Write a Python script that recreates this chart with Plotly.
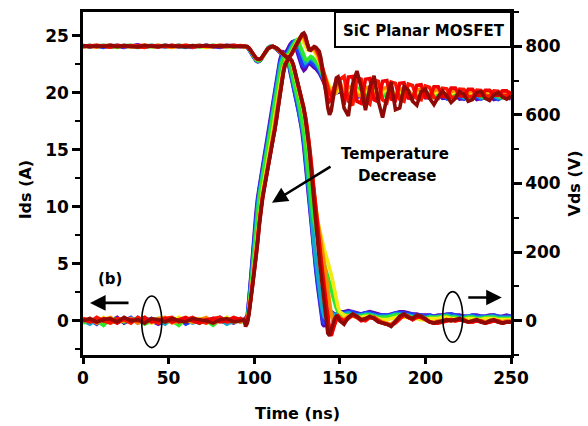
import plotly.graph_objects as go

# Sample times (ns): coarse before switching, 1 ns through the pulse, 2.5 ns in the tail
t_ns = list(range(0, 93, 4)) + list(range(94, 151)) + [152.5 + 2.5 * i for i in range(40)]

# Drain current Ids (A), one waveform per case temperature (coldest -> hottest)
ids_purple = [
    0.1, -0.2, 0.2, -0.1, 0.0, 0.3, -0.2, 0.1, -0.1, 0.2, 0.0, -0.3, 0.1, 0.2, -0.1, 0.0, 0.2, -0.2, 0.1, -0.1, 0.3, 0.0, -0.2, 0.1,
    0.0, 0.2, 0.5, 2.0, 4.0, 5.8, 7.6, 9.4, 10.8, 11.9,
    12.9, 13.8, 14.6, 15.5, 16.4, 17.3, 18.3, 19.3, 20.3, 21.3,
    22.2, 22.9, 23.4, 23.6, 23.5, 23.1, 22.6, 21.8, 21.0, 20.3,
    19.6, 19.0, 18.3, 17.5, 16.5, 15.2, 13.6, 11.8, 10.0, 8.4,
    7.0, 5.7, 4.4, 3.1, 1.8, 0.6, -0.3, -0.5, -0.1, 0.4,
    0.7, 0.8, 0.6, 0.5, 0.5, 0.7, 0.8,
    0.8, 0.9, 0.8, 0.7, 0.6, 0.7, 0.8, 0.7, 0.6, 0.5, 0.5, 0.6, 0.7, 0.8, 0.8, 0.7, 0.6, 0.6, 0.5, 0.5,
    0.5, 0.4, 0.5, 0.5, 0.6, 0.6, 0.5, 0.5, 0.4, 0.4, 0.5, 0.5, 0.4, 0.4, 0.5, 0.5, 0.4, 0.4, 0.5, 0.4,
]
ids_blue = [
    -0.1, 0.1, -0.3, 0.2, 0.1, -0.1, 0.0, 0.3, -0.2, 0.0, 0.2, -0.1, -0.2, 0.1, 0.2, -0.3, 0.0, 0.1, -0.1, 0.2, 0.0, -0.2, 0.1, -0.1,
    0.1, 0.0, 0.4, 1.7, 3.6, 5.4, 7.2, 9.0, 10.5, 11.6,
    12.6, 13.5, 14.3, 15.2, 16.1, 17.0, 18.0, 19.0, 20.0, 21.0,
    21.9, 22.7, 23.2, 23.5, 23.5, 23.2, 22.7, 22.0, 21.2, 20.5,
    19.8, 19.2, 18.5, 17.7, 16.8, 15.6, 14.0, 12.2, 10.4, 8.8,
    7.3, 6.0, 4.7, 3.4, 2.1, 0.9, 0.0, -0.3, 0.0, 0.4,
    0.7, 0.8, 0.7, 0.6, 0.6, 0.7, 0.8,
    0.7, 0.8, 0.8, 0.6, 0.6, 0.7, 0.7, 0.6, 0.5, 0.5, 0.5, 0.5, 0.7, 0.7, 0.7, 0.6, 0.6, 0.5, 0.5, 0.4,
    0.5, 0.4, 0.4, 0.5, 0.5, 0.6, 0.5, 0.4, 0.4, 0.4, 0.5, 0.4, 0.4, 0.4, 0.4, 0.5, 0.4, 0.3, 0.4, 0.4,
]
ids_cyan = [
    0.0, -0.3, 0.1, 0.2, -0.2, 0.0, 0.1, -0.1, 0.3, -0.2, 0.1, 0.0, -0.3, 0.2, 0.0, 0.1, -0.2, 0.0, 0.2, -0.1, 0.1, -0.3, 0.0, 0.2,
    0.0, 0.1, 0.3, 1.4, 3.2, 4.9, 6.6, 8.4, 10.0, 11.2,
    12.2, 13.1, 13.9, 14.8, 15.7, 16.6, 17.6, 18.6, 19.6, 20.6,
    21.5, 22.3, 22.9, 23.3, 23.4, 23.2, 22.8, 22.2, 21.5, 20.8,
    20.1, 19.5, 18.8, 18.0, 17.2, 16.1, 14.6, 12.9, 11.1, 9.5,
    8.0, 6.6, 5.3, 4.0, 2.8, 1.7, 0.8, 0.3, 0.2, 0.4,
    0.6, 0.7, 0.6, 0.5, 0.5, 0.6, 0.6,
    0.6, 0.7, 0.6, 0.5, 0.5, 0.6, 0.6, 0.5, 0.4, 0.4, 0.4, 0.5, 0.6, 0.6, 0.5, 0.5, 0.4, 0.4, 0.4, 0.3,
    0.4, 0.3, 0.4, 0.4, 0.5, 0.4, 0.4, 0.3, 0.3, 0.4, 0.4, 0.3, 0.3, 0.3, 0.4, 0.4, 0.3, 0.3, 0.3, 0.3,
]
ids_green = [
    -0.2, 0.1, 0.0, -0.4, 0.2, 0.1, -0.1, 0.0, 0.2, -0.3, 0.0, 0.2, -0.1, 0.0, -0.4, 0.2, 0.1, -0.2, 0.0, -0.4, 0.1, 0.2, -0.1, 0.0,
    -0.1, 0.0, 0.2, 1.2, 2.8, 4.4, 6.1, 7.9, 9.5, 10.8,
    11.8, 12.7, 13.5, 14.4, 15.3, 16.2, 17.2, 18.2, 19.2, 20.2,
    21.1, 21.9, 22.6, 23.0, 23.3, 23.2, 22.9, 22.4, 21.8, 21.1,
    20.4, 19.8, 19.1, 18.4, 17.6, 16.6, 15.3, 13.8, 12.3, 10.9,
    9.7, 8.7, 7.9, 7.2, 6.6, 6.0, 5.5, 5.0, 4.5, 4.0,
    3.4, 2.8, 2.1, 1.5, 1.1, 0.8, 0.6,
    0.5, 0.5, 0.5, 0.4, 0.4, 0.5, 0.5, 0.4, 0.3, 0.3, 0.3, 0.4, 0.5, 0.5, 0.4, 0.4, 0.3, 0.3, 0.3, 0.2,
    0.3, 0.3, 0.3, 0.4, 0.4, 0.3, 0.3, 0.2, 0.2, 0.3, 0.3, 0.2, 0.2, 0.3, 0.3, 0.3, 0.2, 0.2, 0.2, 0.2,
]
ids_yellow = [
    0.2, 0.0, -0.1, 0.3, -0.2, 0.1, 0.2, -0.1, 0.0, 0.3, -0.2, 0.1, 0.0, -0.1, 0.3, 0.0, -0.1, 0.2, -0.2, 0.1, 0.0, 0.3, -0.1, 0.0,
    0.0, -0.1, 0.1, 0.9, 2.3, 3.6, 5.0, 6.6, 8.1, 9.5,
    10.7, 11.6, 12.4, 13.2, 14.1, 15.0, 15.9, 16.8, 17.8, 18.8,
    19.8, 20.7, 21.5, 22.2, 22.7, 23.0, 23.1, 22.9, 22.6, 22.1,
    21.5, 20.8, 20.2, 19.6, 19.0, 18.3, 17.4, 16.3, 15.0, 13.6,
    12.2, 10.9, 9.8, 8.9, 8.1, 7.4, 6.8, 6.2, 5.7, 5.2,
    4.7, 4.1, 3.4, 2.6, 1.8, 1.2, 0.8,
    0.5, 0.4, 0.4, 0.3, 0.3, 0.4, 0.4, 0.3, 0.2, 0.1, 0.1, 0.2, 0.3, 0.4, 0.3, 0.3, 0.2, 0.2, 0.1, 0.1,
    0.2, 0.2, 0.2, 0.3, 0.3, 0.2, 0.2, 0.1, 0.1, 0.2, 0.2, 0.1, 0.1, 0.2, 0.2, 0.2, 0.1, 0.1, 0.1, 0.1,
]
ids_orange = [
    0.0, 0.2, -0.2, 0.1, 0.3, -0.1, 0.0, 0.2, -0.2, 0.1, -0.1, 0.2, 0.3, -0.2, 0.0, 0.2, -0.1, 0.1, 0.3, -0.2, 0.0, 0.1, 0.2, -0.1,
    0.1, -0.1, 0.0, 0.8, 2.1, 3.3, 4.5, 6.0, 7.5, 9.0,
    10.3, 11.2, 12.0, 12.8, 13.7, 14.6, 15.5, 16.3, 17.2, 18.3,
    19.3, 20.3, 21.2, 22.0, 22.6, 22.9, 23.0, 22.9, 22.7, 22.3,
    21.7, 21.0, 20.4, 19.8, 19.2, 18.5, 17.6, 16.5, 15.3, 13.9,
    12.4, 11.0, 9.8, 8.8, 7.9, 7.0, 6.1, 5.1, 4.0, 2.8,
    1.6, 0.6, -0.1, -0.3, 0.0, 0.3, 0.3,
    0.1, 0.4, 0.5, 0.3, 0.1, 0.2, 0.3, 0.2, 0.0, -0.1, -0.2, -0.3, 0.0, 0.3, 0.5, 0.3, 0.2, 0.4, 0.3, 0.1,
    -0.1, -0.1, 0.0, 0.0, 0.1, 0.0, 0.1, 0.1, 0.0, -0.1, 0.0, 0.1, 0.0, -0.1, 0.0, 0.1, 0.0, -0.1, 0.0, 0.0,
]
ids_red = [
    0.1, -0.1, 0.3, 0.0, -0.2, 0.2, 0.1, -0.2, 0.3, 0.0, 0.1, -0.2, 0.2, 0.3, -0.1, 0.1, 0.3, 0.0, -0.2, 0.2, 0.3, -0.1, 0.0, 0.2,
    0.0, -0.2, 0.0, 0.7, 1.9, 3.1, 4.2, 5.6, 7.1, 8.7,
    10.0, 11.0, 11.8, 12.6, 13.5, 14.4, 15.2, 16.0, 16.8, 17.9,
    19.0, 20.0, 21.0, 21.8, 22.5, 22.8, 23.0, 23.0, 22.8, 22.3,
    21.7, 21.0, 20.4, 19.9, 19.4, 18.7, 17.9, 16.9, 15.8, 14.4,
    12.9, 11.3, 9.7, 8.2, 6.8, 5.5, 4.2, 2.9, 1.5, 0.2,
    -0.8, -1.2, -0.8, -0.2, 0.3, 0.4, 0.2,
    -0.1, 0.2, 0.5, 0.4, 0.1, 0.0, 0.3, 0.3, 0.0, -0.2, -0.3, -0.4, -0.2, 0.2, 0.5, 0.4, 0.1, 0.3, 0.4, 0.2,
    -0.1, -0.2, -0.2, -0.1, 0.0, 0.1, 0.0, 0.1, 0.1, -0.1, -0.1, 0.0, 0.0, -0.2, -0.1, 0.0, 0.0, -0.2, -0.1, -0.1,
]
ids_crimson = [
    0.2, 0.0, -0.1, 0.2, 0.1, -0.2, 0.2, 0.1, 0.0, 0.3, -0.1, 0.0, 0.2, -0.1, 0.1, 0.3, 0.0, -0.2, 0.1, 0.2, -0.1, 0.0, 0.3, 0.1,
    0.1, -0.3, -0.1, 0.7, 1.9, 3.0, 4.1, 5.5, 7.0, 8.6,
    9.9, 10.9, 11.8, 12.6, 13.5, 14.4, 15.2, 16.0, 16.7, 17.8,
    18.9, 19.9, 20.9, 21.8, 22.5, 22.8, 23.0, 23.0, 22.8, 22.4,
    21.8, 21.1, 20.4, 19.9, 19.4, 18.7, 17.8, 16.8, 15.6, 14.1,
    12.5, 10.8, 9.2, 7.8, 6.5, 5.2, 3.9, 2.6, 1.2, -0.1,
    -1.0, -1.3, -0.9, -0.3, 0.2, 0.4, 0.2,
    0.0, 0.3, 0.5, 0.3, 0.0, 0.1, 0.3, 0.2, -0.1, -0.2, -0.3, -0.4, -0.1, 0.3, 0.5, 0.3, 0.1, 0.4, 0.3, 0.1,
    -0.1, -0.2, -0.1, -0.1, 0.0, 0.1, 0.0, 0.1, 0.0, -0.1, -0.1, 0.0, -0.1, -0.2, -0.1, 0.0, -0.1, -0.2, -0.1, -0.1,
]
ids_darkred = [
    0.0, 0.2, -0.1, 0.1, 0.2, -0.1, 0.3, 0.0, 0.1, -0.2, 0.2, 0.1, -0.1, 0.2, 0.0, -0.1, 0.2, 0.1, 0.0, -0.2, 0.1, 0.2, -0.1, 0.0,
    0.1, -0.5, -0.2, 0.6, 1.8, 2.9, 3.9, 5.3, 6.8, 8.4,
    9.8, 10.8, 11.7, 12.5, 13.4, 14.3, 15.1, 15.9, 16.5, 17.6,
    18.7, 19.8, 20.8, 21.7, 22.4, 22.8, 23.0, 23.0, 22.8, 22.4,
    21.8, 21.0, 20.3, 19.8, 19.3, 18.6, 17.6, 16.6, 15.3, 13.6,
    11.9, 9.8, 8.1, 6.6, 5.4, 4.1, 2.8, 1.5, 0.2, -1.1,
    -1.3, -0.9, -0.3, 0.2, 0.4, 0.3, 0.0,
    -0.3, 0.3, 0.6, 0.4, 0.1, 0.2, 0.4, 0.2, -0.1, -0.2, -0.3, -0.5, -0.1, 0.4, 0.6, 0.3, 0.2, 0.5, 0.4, 0.1,
    -0.1, -0.2, -0.1, 0.0, 0.1, 0.0, 0.1, 0.2, 0.0, -0.1, 0.0, 0.1, -0.1, -0.2, 0.0, 0.1, -0.1, -0.2, -0.1, -0.1,
]

# Drain-source voltage Vds (V), same temperatures
vds_purple = [
    801, 798, 802, 799, 803, 800, 797, 801, 804, 799, 800, 802, 798, 801, 803, 799, 797, 801, 802, 800, 798, 803, 800, 799,
    800, 799, 796, 790, 781, 772, 764, 758, 755, 756,
    761, 769, 778, 787, 794, 798, 800, 799, 796, 792,
    787, 782, 778, 776, 778, 785, 796, 806, 812, 810,
    800, 786, 770, 752, 738, 730, 735, 745, 750, 748,
    742, 738, 735, 730, 722, 712, 700, 690, 680, 672,
    668, 665, 663, 662, 664, 666, 668,
    662, 676, 664, 650, 662, 676, 664, 648, 658, 672, 664, 650, 656, 670, 664, 650, 654, 666, 662, 650,
    652, 664, 660, 648, 650, 662, 658, 646, 648, 660, 656, 645, 648, 658, 655, 645, 648, 657, 654, 646,
]
vds_blue = [
    799, 802, 800, 797, 801, 803, 799, 800, 802, 798, 801, 799, 803, 800, 798, 802, 800, 799, 803, 801, 797, 800, 802, 800,
    800, 799, 797, 791, 782, 773, 765, 759, 756, 757,
    762, 770, 779, 788, 795, 799, 800, 799, 796, 792,
    787, 782, 778, 775, 775, 779, 788, 799, 808, 814,
    810, 798, 782, 765, 750, 742, 744, 752, 757, 755,
    750, 746, 742, 736, 727, 716, 704, 693, 683, 675,
    670, 668, 668, 670, 672, 671, 668,
    660, 672, 670, 655, 652, 668, 672, 656, 650, 665, 670, 656, 650, 662, 668, 656, 650, 660, 665, 655,
    648, 658, 663, 654, 647, 656, 661, 652, 646, 654, 660, 652, 646, 652, 658, 651, 645, 651, 656, 650,
]
vds_cyan = [
    802, 799, 801, 803, 798, 800, 802, 799, 797, 801, 803, 800, 799, 802, 800, 797, 801, 803, 799, 800, 802, 799, 801, 800,
    801, 800, 797, 792, 784, 775, 767, 760, 757, 758,
    762, 770, 779, 788, 795, 799, 800, 799, 797, 793,
    788, 783, 778, 775, 773, 775, 781, 791, 801, 810,
    816, 812, 800, 785, 770, 758, 752, 756, 763, 765,
    762, 757, 752, 745, 735, 723, 710, 698, 688, 680,
    675, 673, 674, 676, 676, 674, 671,
    668, 660, 675, 668, 655, 662, 676, 664, 652, 660, 672, 662, 652, 658, 670, 662, 652, 656, 667, 661,
    651, 655, 665, 660, 650, 654, 663, 658, 650, 653, 661, 657, 649, 652, 660, 656, 649, 651, 658, 655,
]
vds_green = [
    800, 803, 798, 801, 800, 797, 802, 803, 799, 800, 798, 802, 801, 799, 803, 800, 802, 798, 800, 803, 801, 799, 798, 801,
    800, 800, 798, 793, 785, 776, 768, 761, 758, 758,
    762, 769, 778, 787, 794, 798, 800, 800, 797, 793,
    789, 784, 779, 775, 773, 773, 777, 785, 795, 805,
    814, 819, 814, 800, 785, 772, 762, 760, 766, 770,
    768, 763, 757, 750, 740, 728, 715, 703, 692, 684,
    679, 677, 678, 680, 680, 677, 674,
    674, 656, 664, 680, 662, 652, 668, 676, 660, 652, 666, 672, 660, 652, 664, 670, 659, 652, 662, 668,
    658, 651, 660, 666, 657, 651, 659, 664, 656, 650, 657, 662, 655, 650, 656, 661, 654, 650, 655, 659,
]
vds_yellow = [
    798, 801, 803, 800, 799, 802, 800, 798, 801, 803, 799, 800, 802, 798, 801, 803, 799, 800, 797, 801, 803, 800, 799, 801,
    800, 799, 798, 794, 787, 779, 771, 765, 762, 761,
    764, 770, 778, 786, 793, 797, 799, 800, 798, 794,
    790, 785, 780, 776, 772, 770, 771, 776, 785, 795,
    805, 815, 822, 826, 822, 810, 797, 790, 788, 790,
    790, 786, 778, 768, 755, 742, 730, 718, 705, 692,
    680, 670, 664, 662, 665, 672, 678,
    664, 672, 680, 670, 660, 666, 678, 670, 660, 665, 676, 670, 660, 664, 674, 668, 660, 663, 672, 667,
    660, 662, 670, 666, 660, 662, 668, 665, 659, 661, 667, 664, 659, 661, 666, 663, 659, 660, 665, 662,
]
vds_orange = [
    801, 800, 798, 802, 803, 799, 801, 800, 798, 802, 800, 803, 799, 797, 801, 802, 800, 803, 799, 801, 800, 798, 802, 800,
    801, 800, 798, 794, 787, 779, 771, 765, 762, 762,
    764, 770, 778, 786, 793, 797, 799, 800, 798, 795,
    790, 785, 780, 776, 772, 769, 769, 773, 781, 791,
    801, 811, 820, 827, 830, 825, 812, 800, 793, 792,
    794, 792, 786, 776, 762, 746, 730, 715, 700, 686,
    672, 662, 658, 662, 674, 688, 697,
    660, 680, 684, 658, 656, 678, 682, 660, 658, 676, 680, 660, 658, 674, 678, 661, 659, 672, 676, 662,
    660, 670, 674, 662, 660, 668, 672, 662, 660, 667, 670, 662, 660, 666, 669, 662, 660, 665, 668, 662,
]
vds_red = [
    800, 802, 799, 801, 798, 803, 800, 802, 799, 797, 802, 801, 800, 803, 799, 801, 798, 802, 800, 799, 803, 801, 800, 802,
    800, 800, 799, 795, 788, 780, 772, 766, 763, 762,
    764, 770, 778, 786, 793, 797, 799, 800, 798, 795,
    791, 786, 780, 775, 771, 768, 768, 771, 778, 788,
    798, 808, 818, 826, 832, 833, 822, 806, 795, 792,
    796, 797, 793, 785, 772, 755, 735, 715, 695, 676,
    662, 655, 660, 676, 694, 705, 703,
    712, 640, 628, 708, 704, 642, 632, 702, 698, 644, 636, 696, 692, 646, 640, 690, 686, 648, 644, 684,
    680, 650, 648, 678, 676, 652, 650, 675, 674, 654, 653, 672, 671, 656, 655, 670, 669, 657, 656, 668,
]
vds_crimson = [
    799, 801, 803, 800, 798, 801, 802, 799, 801, 803, 800, 798, 801, 802, 800, 803, 799, 801, 800, 802, 799, 801, 803, 800,
    800, 800, 799, 795, 788, 780, 772, 766, 763, 762,
    764, 770, 778, 786, 793, 797, 799, 800, 798, 795,
    791, 786, 780, 775, 771, 768, 768, 771, 779, 789,
    799, 809, 819, 827, 834, 836, 826, 807, 792, 790,
    795, 798, 795, 788, 775, 752, 722, 690, 664, 646,
    640, 648, 668, 690, 704, 708, 700,
    630, 710, 712, 640, 634, 704, 706, 644, 638, 698, 700, 646, 642, 692, 694, 650, 646, 686, 688, 652,
    650, 682, 682, 654, 652, 678, 678, 656, 655, 675, 675, 657, 656, 672, 672, 658, 657, 670, 670, 659,
]
vds_darkred = [
    802, 799, 801, 800, 803, 799, 802, 801, 798, 802, 800, 799, 803, 800, 801, 798, 802, 800, 803, 799, 801, 802, 799, 801,
    801, 800, 799, 795, 788, 780, 772, 766, 763, 762,
    764, 770, 778, 786, 793, 797, 799, 800, 798, 795,
    791, 786, 780, 775, 771, 768, 768, 772, 780, 790,
    800, 810, 820, 829, 836, 839, 830, 808, 790, 788,
    795, 799, 797, 792, 785, 765, 735, 700, 660, 620,
    600, 612, 645, 685, 708, 711, 690,
    620, 597, 690, 728, 680, 614, 680, 714, 640, 592, 650, 696, 615, 620, 682, 672, 640, 628, 668, 675,
    648, 630, 652, 670, 655, 636, 648, 668, 660, 640, 645, 665, 668, 648, 642, 658, 665, 652, 646, 655,
]

trace_colors = ["#5b08b0", "#1f3cff", "#12a8c8", "#2ee82a", "#f2ea12", "#ff8a00",
                "#ff1400", "#f00000", "#8e0a06"]
ids_series = [ids_purple, ids_blue, ids_cyan, ids_green, ids_yellow, ids_orange,
              ids_red, ids_crimson, ids_darkred]
vds_series = [vds_purple, vds_blue, vds_cyan, vds_green, vds_yellow, vds_orange,
              vds_red, vds_crimson, vds_darkred]

fig = go.Figure()
for color, v in zip(trace_colors, vds_series):
    fig.add_trace(go.Scatter(x=t_ns, y=v, yaxis="y2", mode="lines",
                             line=dict(color=color, width=3.6), hoverinfo="skip", showlegend=False))
for color, i in zip(trace_colors, ids_series):
    fig.add_trace(go.Scatter(x=t_ns, y=i, mode="lines",
                             line=dict(color=color, width=3.6), hoverinfo="skip", showlegend=False))

FONT = "DejaVu Sans"
tickfont = dict(family=FONT, size=17, color="black", weight="bold")
axis_common = dict(showline=True, linewidth=2.5, linecolor="black", showgrid=False, zeroline=False,
                   ticks="outside", tickwidth=2.5, tickcolor="black", tickfont=tickfont)

fig.update_layout(
    width=588, height=426,
    margin=dict(l=83, r=77, t=9, b=71),
    paper_bgcolor="white", plot_bgcolor="white",
    xaxis=dict(range=[0, 250], tickvals=[0, 50, 100, 150, 200, 250], ticklen=6, mirror=True, **axis_common),
    yaxis=dict(range=[-3.0, 27.1], tick0=0, dtick=5, ticklen=8,
               minor=dict(dtick=2.5, ticklen=5, tickwidth=2, ticks="outside", tickcolor="black"),
               **axis_common),
    yaxis2=dict(range=[-100, 900], tick0=0, dtick=200, ticklen=8, overlaying="y", side="right",
                minor=dict(dtick=100, ticklen=5, tickwidth=2, ticks="outside", tickcolor="black"),
                **axis_common),
)

def label(text, x, y, size=16, xref="x", yref="y", angle=0):
    fig.add_annotation(text=f"<b>{text}</b>", x=x, y=y, xref=xref, yref=yref, showarrow=False,
                       textangle=angle, font=dict(family=FONT, size=size, color="black"),
                       xanchor="center", yanchor="middle")

# Axis titles
label("Time (ns)", 0.5, -0.1705, xref="paper", yref="paper")
label("Ids (A)", -0.1355, 0.483, xref="paper", yref="paper", angle=-90)
label("Vds (V)", 1.1495, 0.50, xref="paper", yref="paper", angle=-90)

# Device label in a box at the top-right corner
fig.add_shape(type="rect", xref="x", yref="y", x0=147.2, x1=250, y0=24.02, y1=27.1,
              line=dict(color="black", width=2), fillcolor="white", layer="above")
label("SiC Planar MOSFET", 198.9, 25.45, size=15)

# Temperature trend note and its arrow
label("Temperature", 182.5, 14.64, size=15)
label("Decrease", 183.4, 12.73, size=15)
arrow = dict(text="", showarrow=True, arrowhead=2, arrowsize=1.2, arrowwidth=2.6, arrowcolor="black",
             xref="x", yref="y", axref="pixel", ayref="pixel")
fig.add_annotation(x=110.4, y=10.37, ax=60, ay=-37, **arrow)

# Panel tag and axis pointers
label("(b)", 15.8, 3.71, size=15)
fig.add_annotation(x=4.1, y=1.57, ax=40, ay=0, **arrow)
fig.add_annotation(x=244.6, y=2.04, ax=-35, ay=0, **arrow)
fig.add_shape(type="circle", xref="x", yref="y", x0=34.3, x1=46.0, y0=-2.35, y1=2.18,
              line=dict(color="black", width=1.6))
fig.add_shape(type="circle", xref="x", yref="y", x0=210.1, x1=221.8, y0=-1.88, y1=2.56,
              line=dict(color="black", width=1.6))

fig.write_html("out.html", config={"displayModeBar": False})
